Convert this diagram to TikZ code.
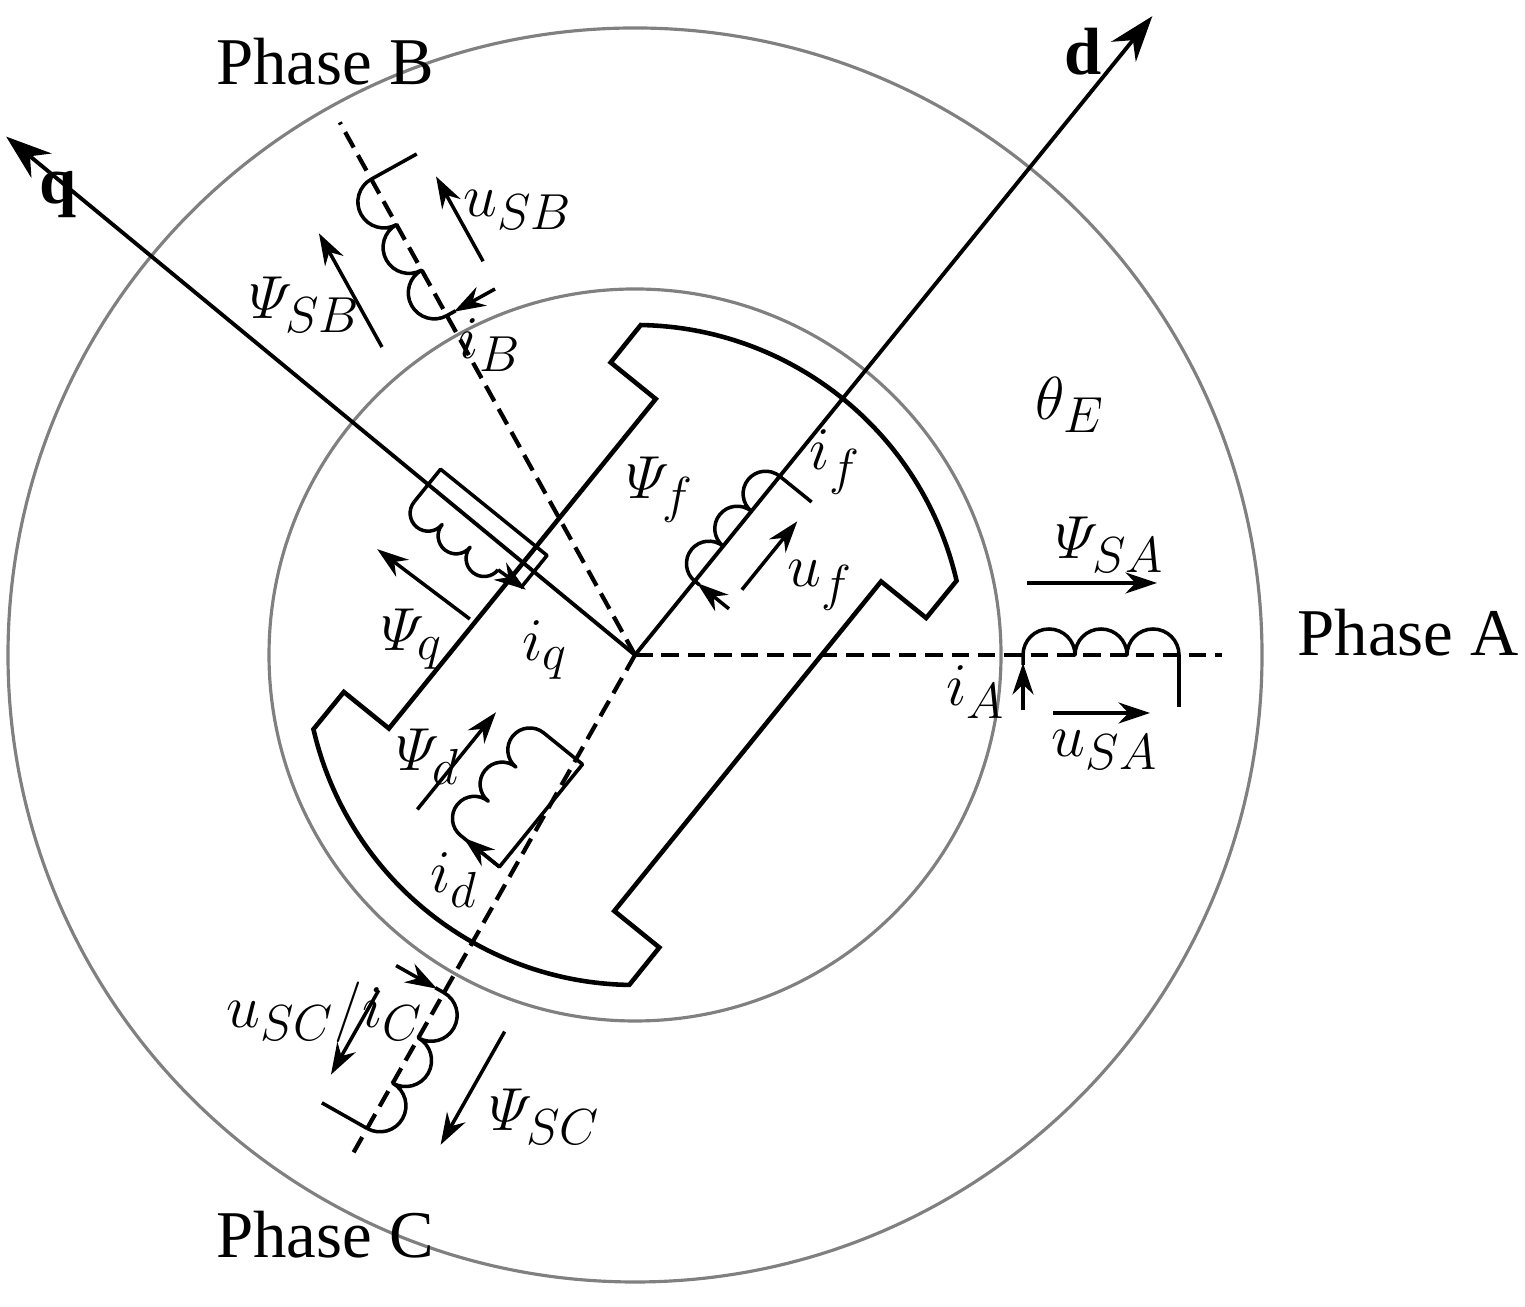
\documentclass[tikz,border=0pt]{standalone}
\usepackage{amsmath}
\usepackage{fontspec}
\setmainfont{Liberation Serif}
\usetikzlibrary{arrows.meta}
\newcommand\PSI{\varPsi}
\begin{document}
\begin{tikzpicture}[x=0.01cm,y=0.01cm,
  every node/.style={font=\fontsize{19}{21}\selectfont,inner sep=0pt},
  wire/.style={line width=1pt,line join=round},
  rotorline/.style={line width=1.3pt,line join=miter},
  ring/.style={line width=0.9pt,draw=black!50},
  phaseaxis/.style={line width=1.2pt,dash pattern=on 5pt off 2.5pt},
  arr/.style={line width=1pt,-{Stealth[length=9pt,width=6pt]}},
  bigarr/.style={line width=1.1pt,-{Stealth[length=13pt,width=9pt]}}]
\useasboundingbox (0,0) rectangle (1525,1307);
\coordinate (O) at (635,652);
% rings
\draw[ring] (O) circle[radius=627];
\draw[ring] (O) circle[radius=366];
% phase axes
\coordinate (PA) at (1222,652);
\draw[phaseaxis] (O) -- (PA);
\draw[phaseaxis] (O) -- ++(119:609) coordinate (PBe);
\draw[phaseaxis] (O) -- ++(240.5:575) coordinate (PCe);
% d and q axes
\draw[bigarr] (O) -- ++(51:822) coordinate (dtip);
\draw[bigarr] (O) -- ++(140.5:815) coordinate (qtip);
% rotor
\begin{scope}[shift={(635,652)},rotate=51]
\draw[rotorline] (-38:330) arc[start angle=-38,end angle=38,radius=330] -- (212,203) -- (212,145) -- (-212,145) -- (-212,203) -- (142:330) arc[start angle=142,end angle=218,radius=330] -- (-212,-203) -- (-212,-145) -- (212,-145) -- (212,-203) -- cycle;
% field coil
\draw[arr] (95,-44) -- (95,-3);
\draw[wire] (95,-6) -- (95,0) \foreach \k in {1,2,3}{arc[start angle=180,end angle=0,radius=22.5]} -- (230,-41);
\draw[arr] (118,-42) -- (206,-42);
% d coil
\draw[arr] (-250,-28) -- (-250,18);
\draw[wire] (-250,22) \foreach \k in {1,2,3}{arc[start angle=180,end angle=0,radius=22]} -- (-118,-28) -- (-250,-28) -- (-250,22);
\draw[arr] (-257,72) -- (-132,72);
% q coil
\begin{scope}[shift={(-20,160)},rotate=90]
\draw[wire] (0,0) \foreach \k in {1,2,3}{arc[start angle=180,end angle=0,radius=18]};
\end{scope}
\draw[wire] (-20,268) -- (22,268) -- (22,131) -- (-20,131);
\draw[arr] (-20,160) -- (-18,126);
\draw[arr] (-76,151) -- (-80,267);
\end{scope}
% stator coils
\foreach \ang in {0,119,240.5}{
\begin{scope}[shift={(635,652)},rotate=\ang]
\draw[arr] (388,-55) -- (388,-8);
\draw[wire] (388,-10) -- (388,0) \foreach \k in {1,2,3}{arc[start angle=180,end angle=0,radius=26]};
\draw[wire] (544,0) -- (544,-52);
\draw[arr] (392,72) -- (522,72);
\draw[arr] (418,-58) -- (515,-58);
\end{scope}}
% labels
\node (lpb) at (325,1245) {Phase B};
\node (lpc) at (325,72) {Phase C};
\node (lpa) at (1408,674) {Phase A};
\node (ld) at (1083,1255) {$\mathbf{d}$};
\node (lq) at (58,1112) {$\mathbf{q}$};
\node (usb) at (518,1097) {$u_{SB}$};
\node (psb) at (305,1002) {$\PSI_{SB}$};
\node (ib) at (490,962) {$i_B$};
\node (th) at (1070,902) {$\theta_E$};
\node (if) at (835,845) {$i_f$};
\node (pf) at (660,817) {$\PSI_f$};
\node (uf) at (820,722) {$u_f$};
\node (pq) at (412,668) {$\PSI_q$};
\node (iq) at (545,657) {$i_q$};
\node (pd) at (428,550) {$\PSI_d$};
\node (id) at (454,427) {$i_d$};
\node (ia) at (976,615) {$i_A$};
\node (usa) at (1105,557) {$u_{SA}$};
\node (psa) at (1110,762) {$\PSI_{SA}$};
\node (usc) at (325,295) {$u_{SC}/i_C$};
\node (psc) at (545,190) {$\PSI_{SC}$};
\end{tikzpicture}
\end{document}
